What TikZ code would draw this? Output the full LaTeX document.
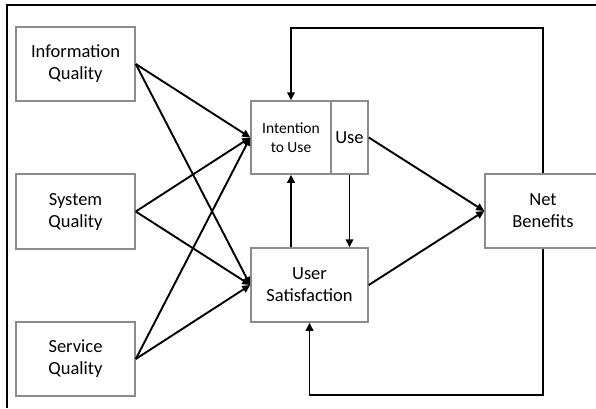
\documentclass[tikz,border=0pt]{standalone}
\usepackage{fontspec}
\setmainfont{Carlito}
\usetikzlibrary{arrows.meta}
\begin{document}
\begin{tikzpicture}[x=1pt,y=-1pt,
  box/.style={draw=black!45, line width=1.5pt, fill=white, inner sep=0pt, align=center,
    font=\fontsize{18.5}{22}\selectfont, text=black},
  smallbox/.style={box, font=\fontsize{15.5}{19}\selectfont},
  conn/.style={line width=1.9pt, -{Triangle[length=8pt,width=7.5pt]}},
  frame/.style={line width=1.3pt}]
\useasboundingbox (0,0) rectangle (596,408);
\clip (0,0) rectangle (596,408);
\draw[frame] (7,408) -- (7,5) -- (596,5);
% left column
\node[box, minimum width=119pt, minimum height=74pt] (iq) at (75.5,64) {Information\\Quality};
\node[box, minimum width=119pt, minimum height=75pt] (sq) at (75.5,211.5) {System\\Quality};
\node[box, minimum width=119pt, minimum height=74pt] (svq) at (75.5,359) {Service\\Quality};
% middle
\node[smallbox, minimum width=80pt, minimum height=73pt] (itu) at (291,137.5) {Intention\\to Use};
\node[box, minimum width=37pt, minimum height=73pt] (use) at (349.5,137.5) {Use};
\node[box, minimum width=117pt, minimum height=74pt] (us) at (309.5,285) {User\\Satisfaction};
% right
\node[box, minimum width=116pt, minimum height=74pt] (nb) at (543,211) {Net\\Benefits};
% connectors
\draw[conn] (iq.east) -- (itu.west);
\draw[conn] (iq.east) -- (us.west);
\draw[conn] (sq.east) -- (itu.west);
\draw[conn] (sq.east) -- (us.west);
\draw[conn] (svq.east) -- (itu.west);
\draw[conn] (svq.east) -- (us.west);
\draw[conn] (us.north -| itu.south) -- (itu.south);
\draw[conn] (use.south) -- (us.north -| use.south);
\draw[conn] (use.east) -- (nb.west);
\draw[conn] (us.east) -- (nb.west);
\coordinate (tr) at (543,28);
\coordinate (tl) at (291,28);
\draw[conn] (nb.north) -- (tr) -- (tl) -- (itu.north);
\coordinate (br) at (543,395);
\coordinate (bl) at (309.5,395);
\draw[conn] (nb.south) -- (br) -- (bl) -- (us.south);
\end{tikzpicture}
\end{document}
